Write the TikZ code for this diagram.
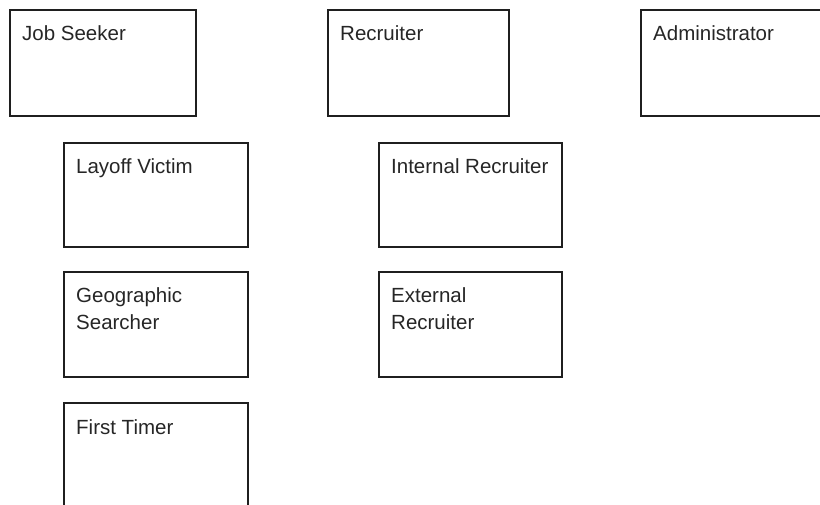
\documentclass[tikz,border=0pt]{standalone}
\usepackage{fontspec}
\setmainfont{Liberation Sans}
\begin{document}
\begin{tikzpicture}[x=1pt,y=-1pt,
  box/.style={draw=black!88, line width=2pt, anchor=north west, inner sep=0pt, outer sep=0pt},
  lbl/.style={anchor=base west, inner sep=0pt, font=\fontsize{20.5}{24}\selectfont, text=black!85}]
\useasboundingbox (0,0) rectangle (820,505);
\clip (0,0) rectangle (820,505);
% top row
\node[box, minimum width=186pt, minimum height=106pt] (js) at (10,10) {};
\node[lbl] (jst) at (22,41) {Job Seeker};
\node[box, minimum width=181pt, minimum height=106pt] (rec) at (328,10) {};
\node[lbl] (rect) at (340,41) {Recruiter};
\node[box, minimum width=200pt, minimum height=106pt] (adm) at (641,10) {};
\node[lbl] (admt) at (653,41) {Administrator};
% job seeker subtypes
\node[box, minimum width=184pt, minimum height=104pt] (lv) at (64,143) {};
\node[lbl] (lvt) at (76,174) {Layoff Victim};
\node[box, minimum width=184pt, minimum height=105pt] (gs) at (64,272) {};
\node[lbl] (gst1) at (76,303) {Geographic};
\node[lbl] (gst2) at (76,330) {Searcher};
\node[box, minimum width=184pt, minimum height=120pt] (ft) at (64,403) {};
\node[lbl] (ftt) at (76,434) {First Timer};
% recruiter subtypes
\node[box, minimum width=183pt, minimum height=104pt] (ir) at (379,143) {};
\node[lbl] (irt) at (391,174) {Internal Recruiter};
\node[box, minimum width=183pt, minimum height=105pt] (er) at (379,272) {};
\node[lbl] (ert1) at (391,303) {External};
\node[lbl] (ert2) at (391,330) {Recruiter};
\end{tikzpicture}
\end{document}
